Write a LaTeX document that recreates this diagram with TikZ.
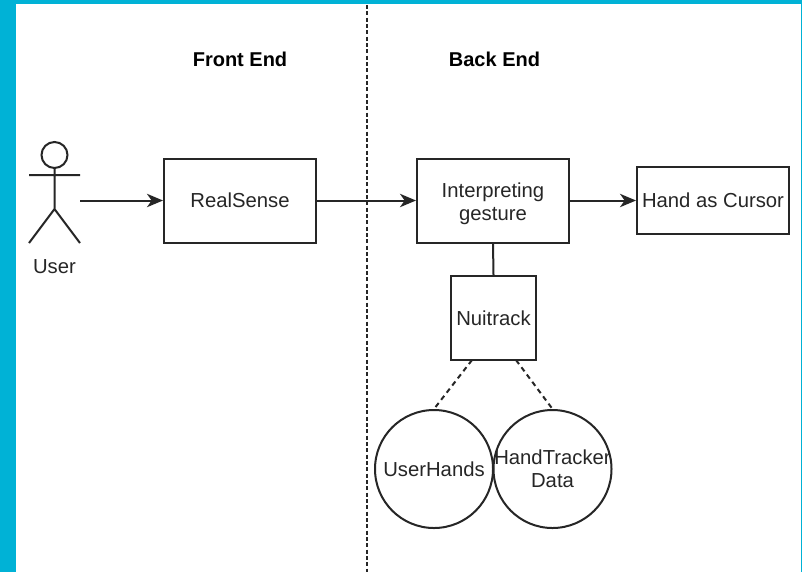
\documentclass[tikz,border=0pt]{standalone}
\usepackage{fontspec}
\setmainfont{Liberation Sans}
\usetikzlibrary{arrows.meta}
\definecolor{frameteal}{HTML}{00B2D6}
\definecolor{ink}{HTML}{262626}
\definecolor{txt}{HTML}{262626}
\tikzset{
  x=0.75pt,y=-0.75pt,
  line/.style={draw=ink,line width=1.5pt},
  flow/.style={line,-{Stealth[length=12pt,width=10pt,inset=3.5pt]}},
  dashline/.style={line,dash pattern=on 3.8pt off 3pt},
  box/.style={line,rectangle,inner sep=0pt,text=txt,align=center,font=\fontsize{15.2}{17.2}\selectfont},
  blob/.style={line,circle,inner sep=0pt,minimum size=88.5pt,text=txt,align=center,font=\fontsize{15.2}{17.2}\selectfont},
  head/.style={inner sep=0pt,text=black,font=\fontsize{15}{17.2}\selectfont\bfseries},
  plain/.style={inner sep=0pt,text=txt,font=\fontsize{15.2}{17.2}\selectfont},
}
\begin{document}
\begin{tikzpicture}
\useasboundingbox (0,0) rectangle (802,572);
\fill[frameteal] (0,0) rectangle (802,572);
\fill[white] (16,4) rectangle (801,572);

% divider
\coordinate (divtop) at (366.5,5);
\coordinate (divbot) at (366.5,572);
\draw[draw=ink,line width=1.5pt,dash pattern=on 3pt off 1.75pt] (divtop) -- (divbot);

\node[head] (front) at (240,59) {Front End};
\node[head] (back) at (494.5,59) {Back End};

% actor
\node[line,circle,inner sep=0pt,minimum size=19.5pt] (actorhead) at (54.5,155) {};
\coordinate (shl) at (29,175);
\coordinate (shr) at (80,175);
\coordinate (hip) at (54.5,209);
\coordinate (footl) at (29,243);
\coordinate (footr) at (80,243);
\draw[line] (actorhead.south) -- (hip) (shl) -- (shr) (footl) -- (hip) -- (footr);
\node[plain] (user) at (54.5,267) {User};
\coordinate (userout) at (80,200.5);

\node[box,minimum width=114pt,minimum height=63pt] (real) at (240,200.5) {RealSense};
\node[box,minimum width=114pt,minimum height=63pt] (interp) at (493,200.5) {\rule{0pt}{16pt}Interpreting\\gesture};
\node[box,minimum width=114pt,minimum height=50.5pt] (cursor) at (713,200.5) {Hand as Cursor};
\node[box,minimum width=64pt,minimum height=63pt] (nui) at (493.5,318) {Nuitrack};
\node[blob] (uh) at (434,469) {\makebox[0pt]{UserHands}};
\node[blob] (ht) at (552.5,469) {\makebox[0pt]{HandTracker}\\\makebox[0pt]{Data}};

\draw[flow] (userout) -- (real.west);
\draw[flow] (real.east) -- (interp.west);
\draw[flow] (interp.east) -- (cursor.west);
\draw[line] (interp.south) -- (nui.north);
\coordinate (nl) at (472,360);
\coordinate (nr) at (516,360);
\draw[dashline] (nl) -- (uh.north);
\draw[dashline] (nr) -- (ht.north);
\end{tikzpicture}
\end{document}
